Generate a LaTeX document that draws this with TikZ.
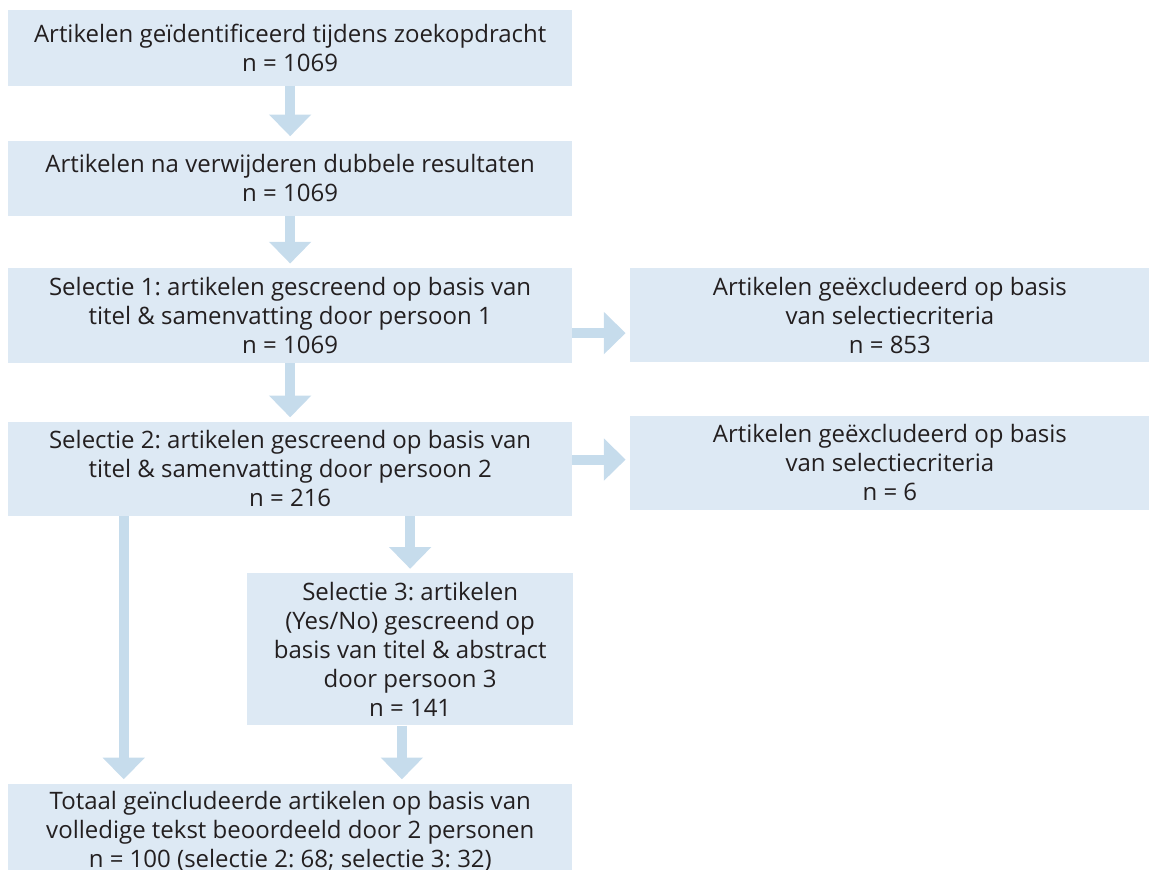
\documentclass[tikz,border=0pt]{standalone}
\usepackage{fontspec}
\setmainfont{Open Sans}
\usetikzlibrary{positioning,arrows.meta}
\definecolor{boxfill}{HTML}{DDE9F4}
\definecolor{arrowfill}{HTML}{C6DCEC}
\definecolor{textgray}{HTML}{231F20}

\begin{document}
\begin{tikzpicture}[
    x=0.75pt,y=0.75pt,
    stage/.style={rectangle,fill=boxfill,text=textgray,inner sep=0pt,align=center,
        minimum width=422.8pt,font=\fontsize{18pt}{21.75pt}\selectfont\frenchspacing},
    excl/.style={stage,minimum width=390pt},
    flow/.style={draw=arrowfill,line width=7.5pt,shorten >=3pt,
        -{Triangle[width=30.75pt,length=16.3pt]}}
    ]
    \useasboundingbox (0,0) rectangle (1149,869);
    \clip (0,0) rectangle (1149,869);

    \node(ident) [stage,minimum height=56.8pt] at (290.15,821.15)
        {Artikelen geïdentificeerd tijdens zoekopdracht\\n = 1069};
    \node(dedup) [stage,minimum height=56.25pt,below=40.7pt of ident]
        {Artikelen na verwijderen dubbele resultaten\\n = 1069};
    \node(sel1) [stage,minimum height=71.25pt,below=38.8pt of dedup]
        {Selectie 1: artikelen gescreend op basis van\\titel \& samenvatting door persoon 1\\n = 1069};
    \node(sel2) [stage,minimum height=70.7pt,below=43.7pt of sel1]
        {Selectie 2: artikelen gescreend op basis van\\titel \& samenvatting door persoon 2\\n = 216};

    \node(excl1) [excl,minimum height=70.8pt,right=43pt of sel1]
        {Artikelen geëxcludeerd op basis\\van selectiecriteria\\n = 853};
    \node(excl2) [excl,minimum height=71pt,right=43pt of sel2,yshift=4.35pt]
        {Artikelen geëxcludeerd op basis\\van selectiecriteria\\n = 6};

    \node(sel3) [stage,minimum width=244.5pt,minimum height=114.2pt,below=42.5pt of sel2,xshift=90pt]
        {Selectie 3: artikelen\\(Yes/No) gescreend op\\basis van titel \& abstract\\door persoon 3\\n = 141};
    \node(total) [stage,minimum height=71.25pt,below=43.3pt of sel3,xshift=-89.9pt]
        {Totaal geïncludeerde artikelen op basis van\\volledige tekst beoordeeld door 2 personen\\n = 100 (selectie 2: 68; selectie 3: 32)};

    % main column
    \draw[flow] (ident) -- (dedup);
    \draw[flow] (dedup) -- (sel1);
    \draw[flow] (sel1) -- (sel2);

    % exclusions
    \draw[flow] ([yshift=-13.35pt]sel1.east) -- ([yshift=-13.35pt]sel1.east -| excl1.west);
    \draw[flow] ([yshift=6.86pt]sel2.east) -- ([yshift=6.86pt]sel2.east -| excl2.west);

    % towards the total
    \draw[flow] (sel3.north |- sel2.south) -- (sel3.north);
    \draw[flow] ([xshift=-6.2pt]sel3.south) -- ([xshift=-6.2pt]sel3.south |- total.north);
    \draw[flow] ([xshift=86.8pt]sel2.south west) -- ([xshift=86.8pt]sel2.south west |- total.north);

\end{tikzpicture}
\end{document}
